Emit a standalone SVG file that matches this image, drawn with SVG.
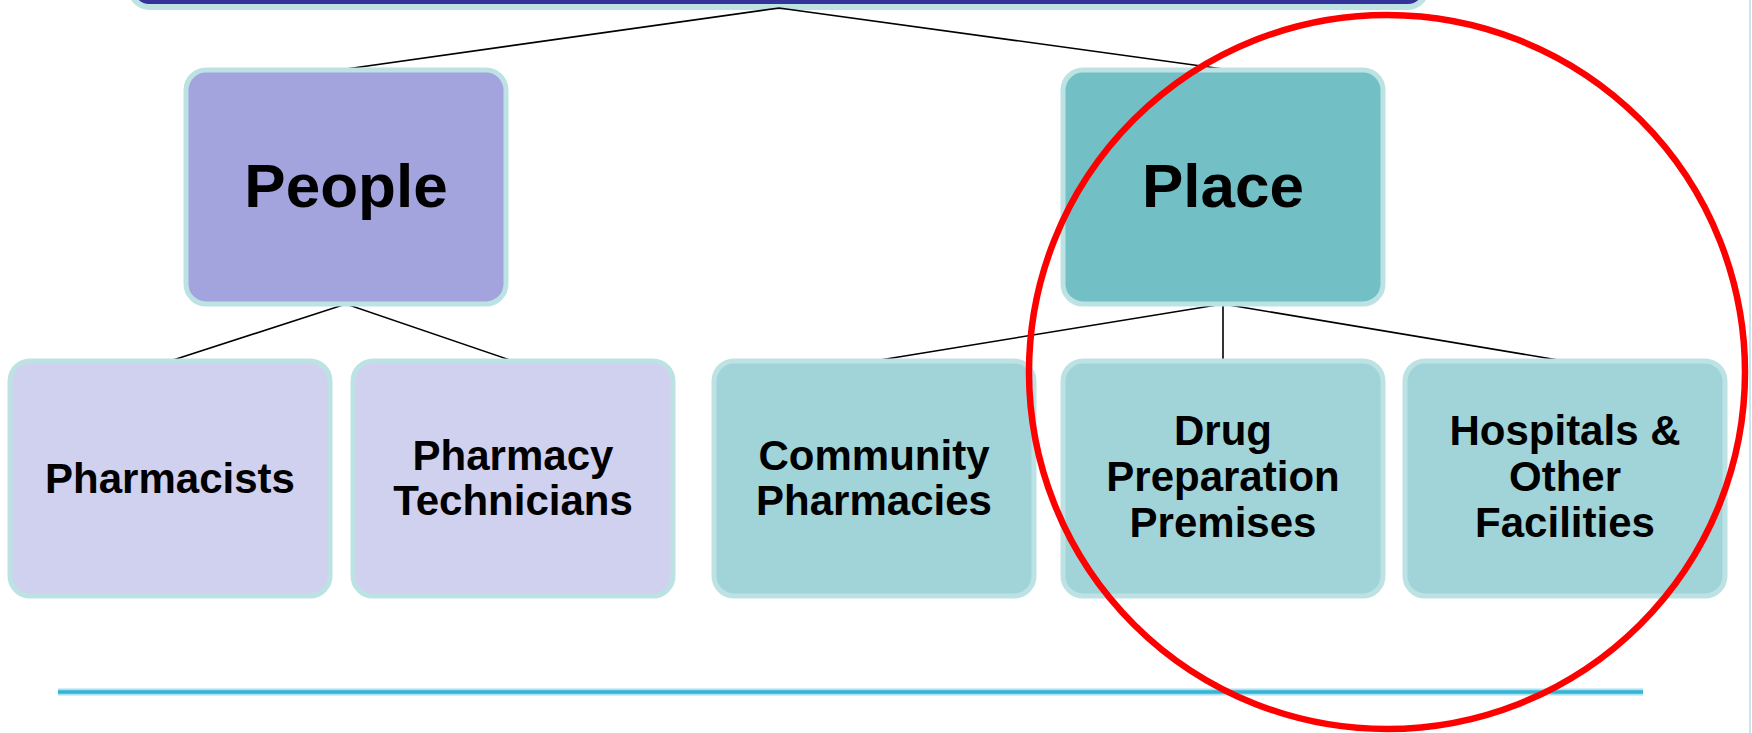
<svg xmlns="http://www.w3.org/2000/svg" width="1752" height="733" viewBox="0 0 1752 733">
  <style>
    .box { stroke: #bde2e4; stroke-width: 5; }
    .lvl1-people { fill: #a3a3de; }
    .lvl1-place { fill: #72bfc5; }
    .lvl2-people { fill: #d0d0ef; }
    .lvl2-place { fill: #a0d4d8; }
    .big { font-family: "Liberation Sans", Arial, sans-serif; font-weight: bold; font-size: 62px; fill: #000; text-anchor: middle; }
    .small { font-family: "Liberation Sans", Arial, sans-serif; font-weight: bold; font-size: 42px; fill: #000; text-anchor: middle; }
    .conn { stroke: #000; stroke-width: 1.6; fill: none; }
  </style>

  <rect width="1752" height="733" fill="#ffffff"/>

  <!-- right edge rule -->
  <line x1="1750" y1="0" x2="1750" y2="733" stroke="#c8e7ef" stroke-width="2"/>

  <!-- title bar (cut off at top) -->
  <g id="title-bar">
    <rect x="131" y="-30" width="1295" height="37" rx="18" fill="#333399" stroke="#bde3e3" stroke-width="6"/>
  </g>

  <!-- connectors -->
  <g id="connectors">
    <polyline class="conn" points="346,69 779,8 1223,69"/>
    <polyline class="conn" points="170,361 346,304 513,361"/>
    <polyline class="conn" points="874,361 1223,304 1564,361"/>
    <line class="conn" x1="1223" y1="304" x2="1223" y2="361"/>
  </g>

  <!-- level 1 -->
  <g id="people">
    <rect class="box lvl1-people" x="186" y="70" width="320" height="234" rx="20"/>
    <text class="big" x="346" y="207">People</text>
  </g>
  <g id="place">
    <rect class="box lvl1-place" x="1063" y="70" width="320" height="234" rx="20"/>
    <text class="big" x="1223" y="207">Place</text>
  </g>

  <!-- level 2: people -->
  <g id="pharmacists">
    <rect class="box lvl2-people" x="10" y="361" width="320" height="235" rx="20"/>
    <text class="small" x="170" y="493">Pharmacists</text>
  </g>
  <g id="pharmacy-technicians">
    <rect class="box lvl2-people" x="353" y="361" width="320" height="235" rx="20"/>
    <text class="small" x="513" y="470">Pharmacy</text>
    <text class="small" x="513" y="515">Technicians</text>
  </g>

  <!-- level 2: place -->
  <g id="community-pharmacies">
    <rect class="box lvl2-place" x="714" y="361" width="320" height="235" rx="20"/>
    <text class="small" x="874" y="470">Community</text>
    <text class="small" x="874" y="515">Pharmacies</text>
  </g>
  <g id="drug-preparation-premises">
    <rect class="box lvl2-place" x="1063" y="361" width="320" height="235" rx="20"/>
    <text class="small" x="1223" y="445">Drug</text>
    <text class="small" x="1223" y="491">Preparation</text>
    <text class="small" x="1223" y="537">Premises</text>
  </g>
  <g id="hospitals-other-facilities">
    <rect class="box lvl2-place" x="1405" y="361" width="320" height="235" rx="20"/>
    <text class="small" x="1565" y="445">Hospitals &amp;</text>
    <text class="small" x="1565" y="491">Other</text>
    <text class="small" x="1565" y="537">Facilities</text>
  </g>

  <!-- footer rule -->
  <line x1="58" y1="692" x2="1643" y2="692" stroke="#aee0f0" stroke-width="7"/>
  <line x1="58" y1="692" x2="1643" y2="692" stroke="#33b5d6" stroke-width="3.5"/>

  <!-- highlight ring -->
  <ellipse id="highlight" cx="1387" cy="372" rx="358" ry="357" fill="none" stroke="#ff0000" stroke-width="6.5"/>
</svg>
